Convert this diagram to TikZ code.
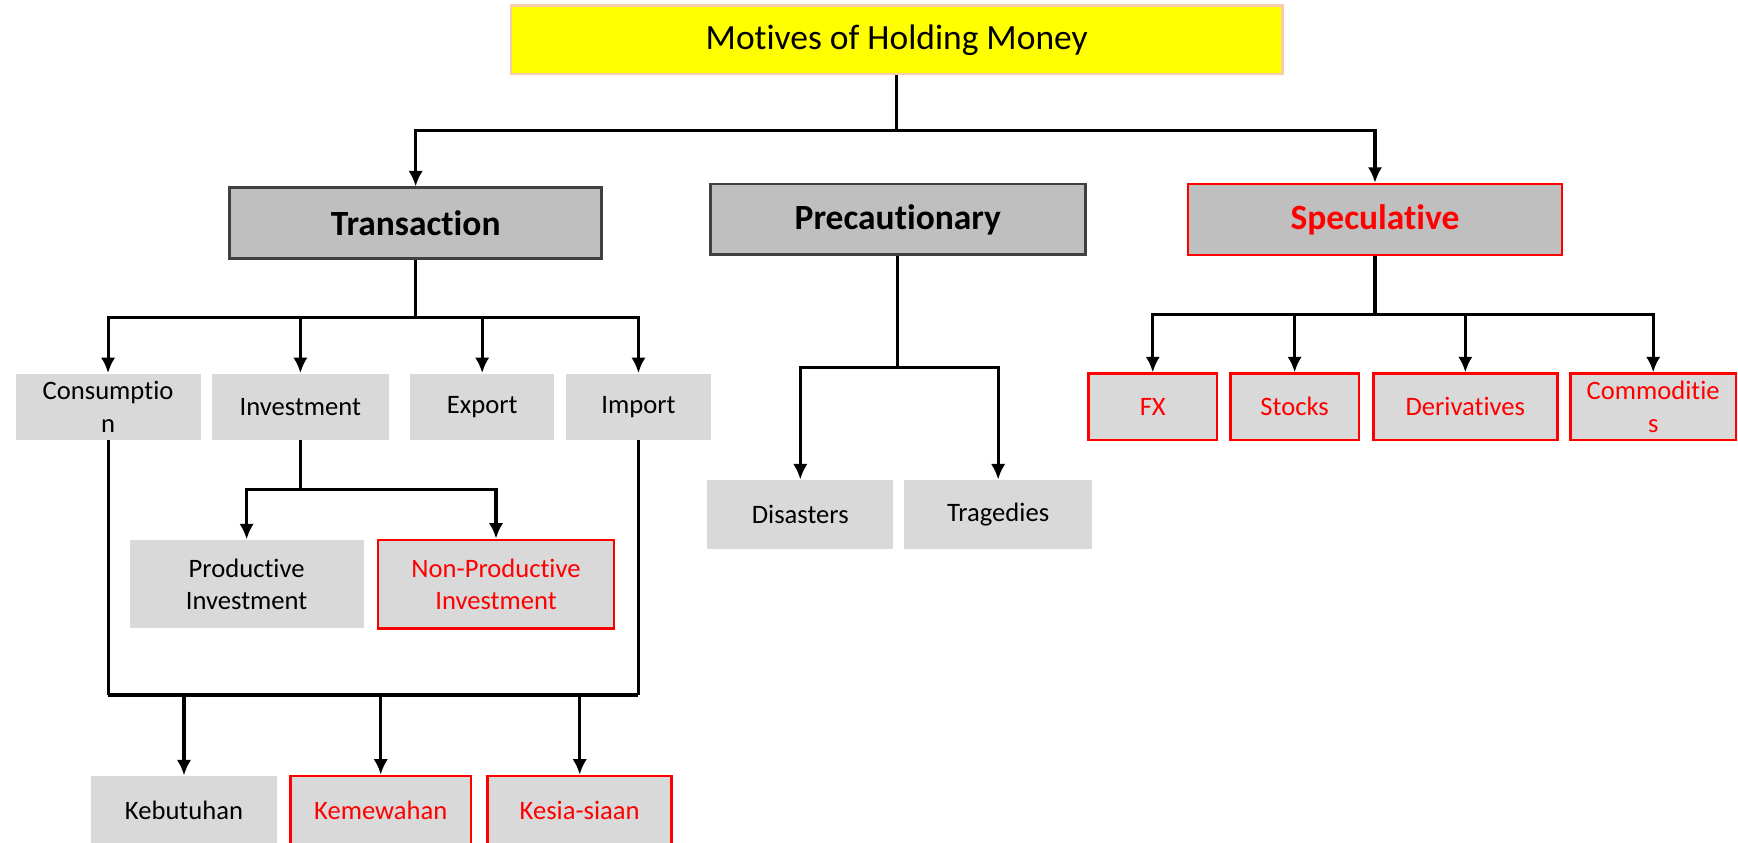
\documentclass[tikz,border=0pt]{standalone}
\usepackage{fontspec}
\setmainfont{Carlito}[Ligatures=NoCommon]
\usetikzlibrary{arrows.meta,positioning}
\definecolor{topyellow}{HTML}{FFFF00}
\definecolor{toppeach}{HTML}{F8CBAD}
\definecolor{midgray}{HTML}{BFBFBF}
\definecolor{boxgray}{HTML}{D9D9D9}
\definecolor{darkedge}{HTML}{404040}
\definecolor{hotred}{HTML}{FF0000}
\begin{document}
\begin{tikzpicture}[
    x=0.5pt, y=-0.5pt,
    topbox/.style={rectangle, fill=topyellow, draw=toppeach, line width=1pt, minimum width=348pt, minimum height=31pt, inner sep=0pt, font=\fontsize{16}{19}\selectfont},
    motive/.style={rectangle, fill=midgray, draw=darkedge, line width=1.3pt, minimum width=168pt, minimum height=32pt, inner sep=0pt, font=\fontsize{16}{19}\selectfont\bfseries},
    leaf/.style={rectangle, fill=boxgray, minimum height=30pt, inner sep=0pt, align=center, font=\fontsize{12}{14.5}\selectfont},
    hot/.style={draw=hotred, line width=1.1pt, text=hotred},
    arrow/.style={-{Latex[length=7pt,width=6.5pt]}, line width=1.4pt},
    link/.style={line width=1.4pt}
]
\useasboundingbox (0,0) rectangle (1568,760);

\node[topbox] (top) at (809,36) {Motives of Holding Money};
\node[motive] (trans) at (375,201.5) {Transaction};
\node[motive, minimum width=169pt] (prec) at (810,198) {Precautionary};
\node[motive, hot, minimum width=168.5pt] (spec) at (1240.5,198) {Speculative};

\node[leaf, minimum width=83.5pt] (cons) at (97.5,367) {Consumptio\\n};
\node[leaf, minimum width=80pt] (inv) at (271,367) {Investment};
\node[leaf, minimum width=65pt] (exp) at (435,367) {Export};
\node[leaf, minimum width=65pt] (imp) at (576,367) {Import};
\node[leaf, minimum width=105.5pt, minimum height=40pt] (prod) at (222.5,527) {Productive\\Investment};
\node[leaf, hot, minimum width=106.5pt, minimum height=40pt] (nonprod) at (447.5,527) {Non-Productive\\Investment};

\node[leaf, minimum width=84pt, minimum height=31pt] (dis) at (722,464) {Disasters};
\node[leaf, minimum width=84.5pt, minimum height=31pt] (trag) at (900.5,464) {Tragedies};

\node[leaf, hot, minimum width=58pt] (fx) at (1040,367) {FX};
\node[leaf, hot, minimum width=58pt] (stocks) at (1168,367) {Stocks};
\node[leaf, hot, minimum width=83pt] (deriv) at (1322,367) {Derivatives};
\node[leaf, hot, minimum width=74.5pt] (comm) at (1491.5,367) {Commoditie\\s};

\node[leaf, minimum width=84pt, minimum height=31pt] (keb) at (166,731) {Kebutuhan};
\node[leaf, hot, minimum width=81.5pt, minimum height=31pt] (mew) at (343.5,731) {Kemewahan};
\node[leaf, hot, minimum width=83pt, minimum height=31pt] (sia) at (523,731) {Kesia-siaan};

% top level
\draw[arrow] (top.south) -- ++(0,50) -| (trans.north);
\draw[arrow] (top.south) -- ++(0,50) -| (spec.north);

% transaction
\foreach \kid in {cons,inv,exp,imp}
  \draw[arrow] (trans.south) -- ++(0,52) -| (\kid.north);
\foreach \kid in {prod,nonprod}
  \draw[arrow] (inv.south) -- ++(0,44) -| (\kid.north);

% precautionary
\foreach \kid in {dis,trag}
  \draw[arrow] (prec.south) -- ++(0,100) -| (\kid.north);

% speculative
\foreach \kid in {fx,stocks,deriv,comm}
  \draw[arrow] (spec.south) -- ++(0,53) -| (\kid.north);

% consumption / import bus
\coordinate (bus) at (336,627);
\draw[link] (cons.south) -- (cons.south |- bus);
\draw[link] (imp.south) -- (imp.south |- bus);
\draw[line width=2pt] (cons.south |- bus) -- (imp.south |- bus);
\foreach \kid in {keb,mew,sia}
  \draw[arrow] (\kid.north |- bus) -- (\kid.north);
\end{tikzpicture}
\end{document}
